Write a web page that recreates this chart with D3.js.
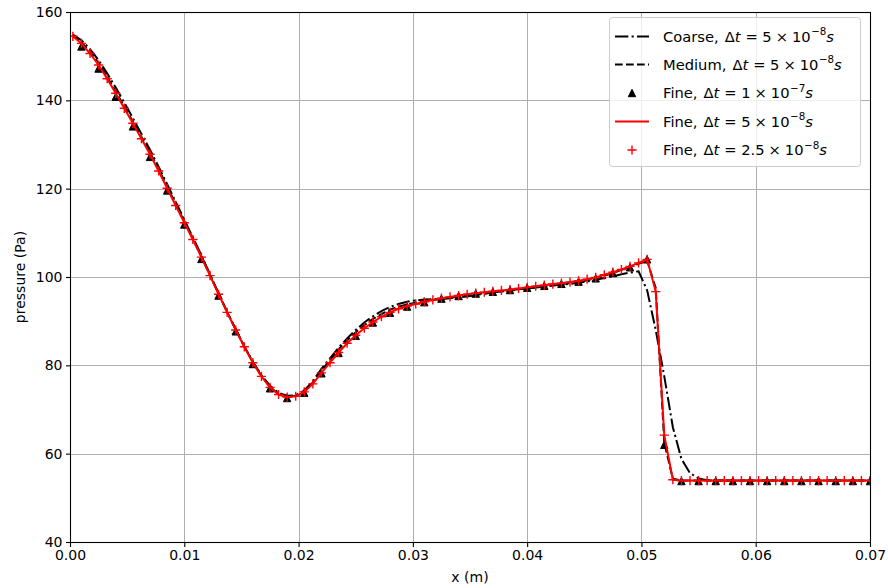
<!DOCTYPE html>
<html>
<head>
<meta charset="utf-8">
<script src="https://cdn.jsdelivr.net/npm/d3@7"></script>
<style>
  body { margin: 0; background: #fff; }
  svg text { font-family: "DejaVu Sans", sans-serif; fill: #000; }
</style>
</head>
<body>
<svg id="chart" width="888" height="588"></svg>
<script>
// Mesh node positions along the channel (m)
const meshX = [
  0.00025, 0.001, 0.00175, 0.0025, 0.00325, 0.004, 0.00475, 0.0055, 0.00625, 0.007,
  0.00775, 0.0085, 0.00925, 0.01, 0.01075, 0.0115, 0.01225, 0.013, 0.01375, 0.0145,
  0.01525, 0.016, 0.01675, 0.0175, 0.01825, 0.019, 0.01975, 0.0205, 0.02125, 0.022,
  0.02275, 0.0235, 0.02425, 0.025, 0.02575, 0.0265, 0.02725, 0.028, 0.02875, 0.0295,
  0.03025, 0.031, 0.03175, 0.0325, 0.03325, 0.034, 0.03475, 0.0355, 0.03625, 0.037,
  0.03775, 0.0385, 0.03925, 0.04, 0.04075, 0.0415, 0.04225, 0.043, 0.04375, 0.0445,
  0.04525, 0.046, 0.04675, 0.0475, 0.04825, 0.049, 0.04975, 0.0505, 0.05125, 0.052,
  0.05275, 0.0535, 0.05425, 0.055, 0.05575, 0.0565, 0.05725, 0.058, 0.05875, 0.0595,
  0.06025, 0.061, 0.06175, 0.0625, 0.06325, 0.064, 0.06475, 0.0655, 0.06625, 0.067,
  0.06775, 0.0685, 0.06925, 0.07
];

// Coarse mesh, dt = 5e-8 s
const coarseP = [
  154.9, 153.6, 151.6, 149.1, 146.1, 142.9, 139.5, 136.0, 132.4, 128.8,
  125.0, 121.0, 117.0, 113.0, 109.0, 104.9, 100.6, 96.3, 92.1, 88.1,
  84.3, 80.8, 77.8, 75.4, 73.8, 73.1, 73.2, 74.3, 76.4, 79.2,
  81.6, 84.0, 86.1, 88.0, 89.7, 91.1, 92.3, 93.2, 93.9, 94.4,
  94.7, 94.9, 95.0, 95.1, 95.2, 95.4, 95.6, 95.9, 96.2, 96.5,
  96.8, 97.0, 97.2, 97.4, 97.6, 97.85, 98.05, 98.25, 98.45, 98.7,
  99.0, 99.35, 99.75, 100.15, 100.6, 101.0, 101.3, 97.0, 88.0, 77.5,
  66.0, 58.8, 55.6, 54.4, 54.0, 53.9, 53.9, 53.9, 53.9, 53.9,
  53.9, 53.9, 53.9, 53.9, 53.9, 53.9, 53.9, 53.9, 53.9, 53.9,
  53.9, 53.9, 53.9, 53.9
];

// Medium mesh, dt = 5e-8 s
const mediumP = [
  154.7, 153.2, 150.9, 148.4, 145.3, 142.0, 138.6, 135.2, 131.7, 128.2,
  124.4, 120.5, 116.5, 112.5, 108.6, 104.6, 100.4, 96.2, 92.1, 88.1,
  84.3, 80.7, 77.6, 75.1, 73.5, 72.9, 73.1, 74.2, 76.1, 78.8,
  81.2, 83.6, 85.7, 87.5, 89.1, 90.5, 91.6, 92.6, 93.3, 93.8,
  94.2, 94.5, 94.8, 95.0, 95.3, 95.6, 95.9, 96.1, 96.3, 96.5,
  96.7, 96.9, 97.2, 97.45, 97.7, 97.95, 98.2, 98.4, 98.6, 98.9,
  99.25, 99.7, 100.3, 100.9, 101.6, 102.3, 103.0, 103.7, 97.5, 62.5,
  54.3, 53.9, 53.9, 53.9, 53.9, 53.9, 53.9, 53.9, 53.9, 53.9,
  53.9, 53.9, 53.9, 53.9, 53.9, 53.9, 53.9, 53.9, 53.9, 53.9,
  53.9, 53.9, 53.9, 53.9
];

// Fine mesh, dt = 5e-8 s
const fineP = [
  154.5, 152.9, 150.6, 148.0, 144.9, 141.6, 138.2, 134.8, 131.3, 127.8,
  124.0, 120.1, 116.2, 112.3, 108.5, 104.5, 100.3, 96.1, 92.0, 88.0,
  84.2, 80.6, 77.5, 75.0, 73.4, 72.8, 73.0, 74.0, 75.8, 78.3,
  80.6, 82.9, 85.0, 86.8, 88.4, 89.8, 91.0, 92.0, 92.8, 93.4,
  93.9, 94.4, 94.8, 95.2, 95.5, 95.8, 96.1, 96.35, 96.55, 96.75,
  96.95, 97.15, 97.4, 97.65, 97.9, 98.15, 98.4, 98.6, 98.85, 99.15,
  99.5, 99.9, 100.5, 101.1, 101.7, 102.4, 103.2, 104.0, 96.7, 64.2,
  54.1, 53.9, 53.9, 53.9, 53.9, 53.9, 53.9, 53.9, 53.9, 53.9,
  53.9, 53.9, 53.9, 53.9, 53.9, 53.9, 53.9, 53.9, 53.9, 53.9,
  53.9, 53.9, 53.9, 53.9
];

// Fine mesh, dt = 2.5e-8 s
const fineHalfP = [
  154.5, 152.9, 150.6, 148.0, 144.9, 141.6, 138.2, 134.8, 131.3, 127.8,
  124.0, 120.1, 116.2, 112.3, 108.5, 104.5, 100.3, 96.1, 92.0, 88.0,
  84.2, 80.6, 77.5, 75.0, 73.4, 72.8, 73.0, 74.0, 75.8, 78.3,
  80.6, 82.9, 85.0, 86.8, 88.4, 89.8, 91.0, 92.0, 92.8, 93.4,
  93.9, 94.4, 94.8, 95.2, 95.5, 95.8, 96.1, 96.35, 96.55, 96.75,
  96.95, 97.15, 97.4, 97.65, 97.9, 98.15, 98.4, 98.6, 98.85, 99.15,
  99.5, 99.9, 100.5, 101.1, 101.7, 102.4, 103.2, 104.0, 96.7, 64.2,
  54.1, 53.9, 53.9, 53.9, 53.9, 53.9, 53.9, 53.9, 53.9, 53.9,
  53.9, 53.9, 53.9, 53.9, 53.9, 53.9, 53.9, 53.9, 53.9, 53.9,
  53.9, 53.9, 53.9, 53.9
];

// Fine mesh, dt = 1e-7 s (sampled every other node)
const fineLongX = [
  0.001, 0.0025, 0.004, 0.0055, 0.007, 0.0085, 0.01, 0.0115, 0.013, 0.0145,
  0.016, 0.0175, 0.019, 0.0205, 0.022, 0.0235, 0.025, 0.0265, 0.028, 0.0295,
  0.031, 0.0325, 0.034, 0.0355, 0.037, 0.0385, 0.04, 0.0415, 0.043, 0.0445,
  0.046, 0.0475, 0.049, 0.0505, 0.052, 0.0535, 0.055, 0.0565, 0.058, 0.0595,
  0.061, 0.0625, 0.064, 0.0655, 0.067, 0.0685, 0.07
];
const fineLongP = [
  152.2, 147.2, 140.8, 134.1, 127.2, 119.6, 111.9, 104.1, 95.8, 87.7,
  80.3, 74.8, 72.6, 73.8, 78.2, 82.8, 86.7, 89.7, 91.9, 93.3,
  94.3, 95.1, 95.7, 96.25, 96.65, 97.05, 97.55, 98.0, 98.45, 98.95,
  99.7, 100.9, 102.2, 104.0, 62.0, 53.8, 53.8, 53.8, 53.8, 53.8,
  53.8, 53.8, 53.8, 53.8, 53.8, 53.8, 53.8
];

const xTicks = [0, 0.01, 0.02, 0.03, 0.04, 0.05, 0.06, 0.07];
const yTicks = [40, 60, 80, 100, 120, 140, 160];

const seriesLabels = [
  { name: "Coarse", coef: "5", exp: "−8" },
  { name: "Medium", coef: "5", exp: "−8" },
  { name: "Fine", coef: "1", exp: "−7" },
  { name: "Fine", coef: "5", exp: "−8" },
  { name: "Fine", coef: "2.5", exp: "−8" }
];

// ---- layout ----
const plot = { left: 70, right: 870, top: 12, bottom: 542 };
const lw = 2.0;

const svg = d3.select("#chart");
const x = d3.scaleLinear().domain([0, 0.07]).range([plot.left, plot.right]);
const y = d3.scaleLinear().domain([40, 160]).range([plot.bottom, plot.top]);

// grid
const grid = svg.append("g").attr("stroke", "#b0b0b0").attr("stroke-width", 1);
grid.selectAll(".gx").data(xTicks).join("line")
  .attr("x1", d => Math.round(x(d)) + 0.5).attr("x2", d => Math.round(x(d)) + 0.5)
  .attr("y1", plot.top).attr("y2", plot.bottom);
grid.selectAll(".gy").data(yTicks).join("line")
  .attr("y1", d => Math.round(y(d)) + 0.5).attr("y2", d => Math.round(y(d)) + 0.5)
  .attr("x1", plot.left).attr("x2", plot.right);

// data layer, clipped to the axes box
svg.append("clipPath").attr("id", "clip").append("rect")
  .attr("x", plot.left).attr("y", plot.top)
  .attr("width", plot.right - plot.left).attr("height", plot.bottom - plot.top);
const data = svg.append("g").attr("clip-path", "url(#clip)");

const line = d3.line().x(d => x(d[0])).y(d => y(d[1]));
const zip = (xs, ys) => xs.map((v, i) => [v, ys[i]]);

const styles = {
  coarse: { stroke: "#000", dash: [13.3, 3.3, 2.1, 3.3] },
  medium: { stroke: "#000", dash: [7.7, 3.3] },
  fine: { stroke: "#ff0000", dash: null }
};

function drawLine(pts, st) {
  data.append("path").datum(pts)
    .attr("d", line)
    .attr("fill", "none")
    .attr("stroke", st.stroke)
    .attr("stroke-width", lw)
    .attr("stroke-dasharray", st.dash ? st.dash.join(",") : null);
}

const triPath = "M0,-3.7L3.7,3.7L-3.7,3.7Z";
const plusPath = "M-4.6,0H4.6M0,-4.6V4.6";

drawLine(zip(meshX, coarseP), styles.coarse);
drawLine(zip(meshX, mediumP), styles.medium);

data.append("g").selectAll("path").data(zip(fineLongX, fineLongP)).join("path")
  .attr("transform", d => `translate(${x(d[0])},${y(d[1])})`)
  .attr("d", triPath).attr("fill", "#000").attr("stroke", "#000").attr("stroke-width", 1);

drawLine(zip(meshX, fineP), styles.fine);

data.append("g").selectAll("path").data(zip(meshX, fineHalfP)).join("path")
  .attr("transform", d => `translate(${x(d[0])},${y(d[1])})`)
  .attr("d", plusPath).attr("fill", "none").attr("stroke", "#ff0000").attr("stroke-width", 1.4);

// frame
svg.append("rect")
  .attr("x", plot.left + 0.5).attr("y", plot.top + 0.5)
  .attr("width", plot.right - plot.left).attr("height", plot.bottom - plot.top)
  .attr("fill", "none").attr("stroke", "#000").attr("stroke-width", 1.1);

// axes
const fmtY = d3.format("d");
const axX = svg.append("g").attr("transform", `translate(0,${plot.bottom + 0.5})`)
  .call(d3.axisBottom(x).tickValues(xTicks).tickFormat(d3.format(".2f")).tickSize(4.5).tickPadding(3.5));
const axY = svg.append("g").attr("transform", `translate(${plot.left + 0.5},0)`)
  .call(d3.axisLeft(y).tickValues(yTicks).tickFormat(fmtY).tickSize(4.5).tickPadding(3.5));
[axX, axY].forEach(a => {
  a.select(".domain").remove();
  a.selectAll("text").attr("font-size", 14).attr("font-family", '"DejaVu Sans", sans-serif').attr("fill", "#000");
  a.selectAll("line").attr("stroke", "#000").attr("stroke-width", 1.1);
});

svg.append("text").attr("x", (plot.left + plot.right) / 2).attr("y", 582)
  .attr("text-anchor", "middle").attr("font-size", 14).text("x (m)");
svg.append("text")
  .attr("transform", `translate(25,${(plot.top + plot.bottom) / 2}) rotate(-90)`)
  .attr("text-anchor", "middle").attr("font-size", 14).text("pressure (Pa)");

// legend
const leg = svg.append("g");
leg.append("rect")
  .attr("x", 609.5).attr("y", 17.5).attr("width", 251).attr("height", 149)
  .attr("rx", 3).attr("fill", "#fff").attr("fill-opacity", 0.8)
  .attr("stroke", "#cccccc").attr("stroke-width", 1);

const rowY = [36.5, 64.5, 93, 121.5, 150];
const hx0 = 615, hx1 = 649, hxm = 632;

// handles
[[styles.coarse, 0], [styles.medium, 1], [styles.fine, 3]].forEach(([st, i]) => {
  leg.append("line").attr("x1", hx0).attr("x2", hx1).attr("y1", rowY[i]).attr("y2", rowY[i])
    .attr("stroke", st.stroke).attr("stroke-width", lw)
    .attr("stroke-dasharray", st.dash ? st.dash.join(",") : null);
});
leg.append("path").attr("transform", `translate(${hxm},${rowY[2]})`).attr("d", triPath)
  .attr("fill", "#000").attr("stroke", "#000").attr("stroke-width", 1);
leg.append("path").attr("transform", `translate(${hxm},${rowY[4]})`).attr("d", plusPath)
  .attr("fill", "none").attr("stroke", "#ff0000").attr("stroke-width", 1.4);

// labels: "<name>, Δt = c × 10^e s", with math-style spacing around operators
seriesLabels.forEach((s, i) => {
  const t = leg.append("text").attr("x", 663).attr("y", rowY[i] + 5).attr("font-size", 14.7);
  t.append("tspan").text(`${s.name},`);
  t.append("tspan").attr("dx", 6).text("Δ");
  t.append("tspan").attr("font-style", "italic").text("t");
  t.append("tspan").attr("dx", 5).text("=");
  t.append("tspan").attr("dx", 4.5).text(s.coef);
  t.append("tspan").attr("dx", 4).text("×");
  t.append("tspan").attr("dx", 4).text("10");
  t.append("tspan").attr("font-size", 10.3).attr("dy", -6.5).attr("dx", 0.5).text(s.exp);
  t.append("tspan").attr("font-style", "italic").attr("dy", 6.5).text("s");
});
</script>
</body>
</html>
